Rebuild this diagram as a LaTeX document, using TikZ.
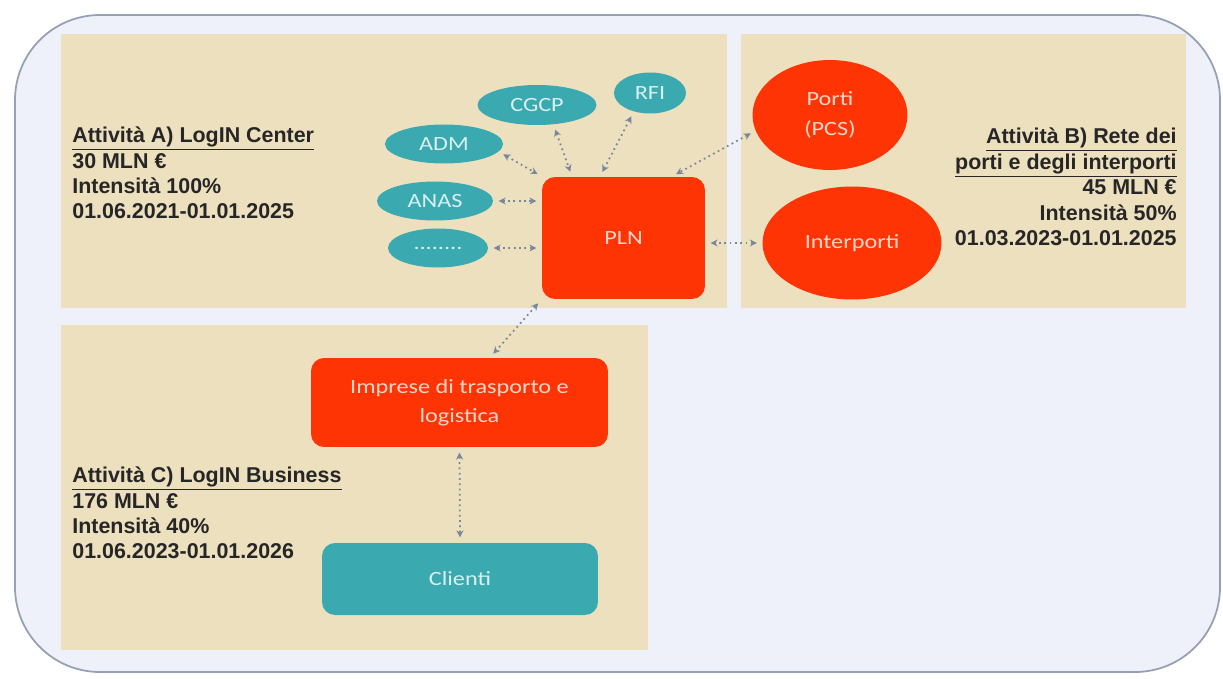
\documentclass[tikz,border=0pt]{standalone}
\usepackage{fontspec}
\setmainfont{Liberation Sans}
\newfontfamily\calfont[FakeStretch=1.2]{Carlito}
\usetikzlibrary{arrows.meta,positioning,shapes.geometric}
\definecolor{framefill}{RGB}{238,240,250}
\definecolor{framedraw}{RGB}{150,160,180}
\definecolor{beige}{RGB}{237,224,190}
\definecolor{tealnode}{RGB}{58,170,176}
\definecolor{tealtext}{RGB}{215,240,240}
\definecolor{rednode}{RGB}{255,52,5}
\definecolor{redtext}{RGB}{255,215,200}
\definecolor{linkgray}{RGB}{120,135,155}

\begin{document}
\begin{tikzpicture}[x=0.02cm, y=-0.02cm,
    area/.style={fill=beige},
    info/.style={inner sep=0pt, font=\fontsize{12.2}{14.5}\selectfont\bfseries, text=black!85},
    ente/.style={ellipse, fill=tealnode, text=tealtext, inner sep=0pt, font=\calfont\fontsize{11.5}{14}\selectfont},
    polo/.style={ellipse, fill=rednode, text=redtext, inner sep=0pt, align=center, font=\calfont\fontsize{11.5}{17}\selectfont},
    blocco/.style={rectangle, rounded corners=0.26cm, inner sep=0pt, align=center, font=\calfont\fontsize{11.5}{16.5}\selectfont},
    link/.style={{Stealth[length=4pt,width=4pt]}-{Stealth[length=4pt,width=4pt]}, dotted, draw=linkgray, line width=1pt, shorten >=3pt, shorten <=3pt}
]
\useasboundingbox (0,0) rectangle (1223,679);

% cornice e aree
\draw[fill=framefill, draw=framedraw, line width=1pt, rounded corners=1.7cm] (15,15) rectangle (1220,672);
\fill[area] (61,34) rectangle (727,308);
\fill[area] (741,34) rectangle (1186,308);
\fill[area] (61,325) rectangle (648,650);

% Attività A
\node[info, anchor=west, align=left] (infoA) at (72,173) {\underline{Attività A) LogIN Center}\\30 MLN €\\Intensità 100\%\\01.06.2021-01.01.2025};
\node[blocco, fill=rednode, text=redtext, minimum width=3.26cm, minimum height=2.44cm] (pln) at (623.5,238) {PLN};
\node[ente, minimum width=2.38cm, minimum height=0.8cm] (cgcp) at (537,105) {CGCP};
\node[ente, minimum width=1.44cm, minimum height=0.82cm] (rfi) at (650,93) {RFI};
\node[ente, minimum width=2.36cm, minimum height=0.78cm] (adm) at (444,144) {ADM};
\node[ente, minimum width=2.32cm, minimum height=0.78cm] (anas) at (435,201) {ANAS};
\node[ente, minimum width=2.0cm, minimum height=0.78cm] (altri) at (438,248) {........};

% Attività B
\node[polo, minimum width=3.1cm, minimum height=2.2cm] (porti) at (830,115) {Porti\\(PCS)};
\node[polo, minimum width=3.58cm, minimum height=2.26cm] (interporti) at (852,243) {Interporti};
\node[info, anchor=east, align=right] (infoB) at (1177,187) {\underline{Attività B) Rete dei}\\\underline{porti e degli interporti}\\45 MLN €\\Intensità 50\%\\01.03.2023-01.01.2025};

% Attività C
\node[blocco, fill=rednode, text=redtext, minimum width=5.94cm, minimum height=1.78cm] (imprese) at (459.5,402.5) {Imprese di trasporto e\\logistica};
\node[blocco, fill=tealnode, text=tealtext, minimum width=5.52cm, minimum height=1.44cm] (clienti) at (460,579) {Clienti};
\node[info, anchor=west, align=left] (infoC) at (72,513) {\underline{Attività C) LogIN Business}\\176 MLN €\\Intensità 40\%\\01.06.2023-01.01.2026};

% collegamenti
\draw[link] (adm.-8) -- (pln.143);
\draw[link] (cgcp.-50) -- (pln.130);
\draw[link] (rfi.229) -- (pln.111);
\draw[link] (anas.east) -- (anas.east -| pln.west);
\draw[link] (altri.east) -- (altri.east -| pln.west);
\draw[link] (porti.192) -- (pln.52);
\draw[link] (interporti.west) -- (interporti.west -| pln.east);
\draw[link] (pln.south west) -- (imprese.56);
\draw[link] (imprese.south) -- (clienti.north);
\end{tikzpicture}
\end{document}
